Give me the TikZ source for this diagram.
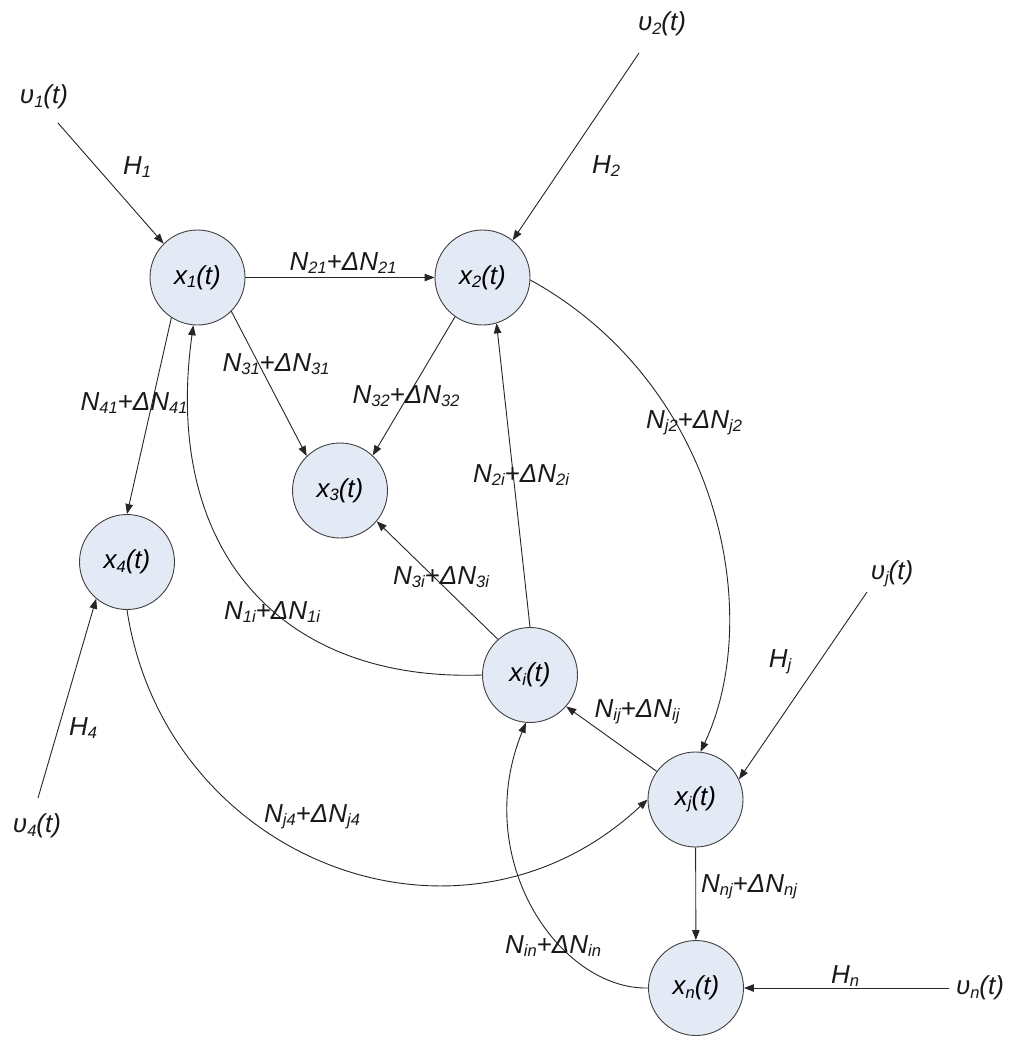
\documentclass[tikz,border=0pt]{standalone}
\usepackage{fontspec}
\setmainfont{Liberation Sans}
\usetikzlibrary{arrows.meta}
\definecolor{nodefill}{RGB}{228,234,245}
\newcommand{\lo}[1]{\raisebox{-3.5pt}{\fontsize{16.5}{16.5}\selectfont #1}}
\begin{document}
\begin{tikzpicture}[x=1pt,y=-1pt,
  state/.style={circle,draw=black!75,fill=nodefill,line width=0.9pt,minimum size=95pt,inner sep=0pt,font=\fontsize{26}{30}\selectfont\itshape},
  lab/.style={font=\fontsize{26}{30}\selectfont\itshape,inner sep=0pt,text=black!90},
  conn/.style={draw=black!85,line width=0.9pt,-{Triangle[length=10pt,width=7.5pt]}}]
\useasboundingbox[fill=white] (0,0) rectangle (1024,1049);
% states
\node[state] (x1) at (197.5,277.5) {x\lo{1}(t)};
\node[state] (x2) at (482.5,277.5) {x\lo{2}(t)};
\node[state] (x3) at (340,490.5) {x\lo{3}(t)};
\node[state] (x4) at (127,562) {x\lo{4}(t)};
\node[state] (xi) at (530,675) {x\lo{i}(t)};
\node[state] (xj) at (695.5,799.5) {x\lo{j}(t)};
\node[state] (xn) at (696,988) {x\lo{n}(t)};
% inputs
\coordinate (u1) at (58,123);
\coordinate (u2) at (639,53);
\coordinate (uj) at (867,592);
\coordinate (u4) at (38,798);
\coordinate (un) at (949,988);
\node[lab] (lu1) at (44,97) {υ\lo{1}(t)};
\node[lab] (lu2) at (662,24) {υ\lo{2}(t)};
\node[lab] (luj) at (892,574) {υ\lo{j}(t)};
\node[lab] (lu4) at (37,826) {υ\lo{4}(t)};
\node[lab] (lun) at (980,988) {υ\lo{n}(t)};
\draw[conn] (u1) -- (x1.135);
\draw[conn] (u2) -- (x2.51);
\draw[conn] (uj) -- (xj.25);
\draw[conn] (u4) -- (x4.230);
\draw[conn] (un) -- (xn.east);
\node[lab] (h1) at (137,167) {H\lo{1}};
\node[lab] (h2) at (606,166) {H\lo{2}};
\node[lab] (hj) at (780,662) {H\lo{j}};
\node[lab] (h4) at (83,728) {H\lo{4}};
\node[lab] (hn) at (845,976) {H\lo{n}};
% couplings
\draw[conn] (x1) -- (x2);
\draw[conn] (x1.-45) -- (x3.134);
\draw[conn] (x2.-125) -- (x3.47);
\draw[conn] (x1.-123) -- (x4.90);
\draw[conn] (xi.90) -- (x2.-73);
\draw[conn] (xi.132) -- (x3.-40);
\draw[conn] (xj.144) -- (xi.-41);
\draw[conn] (xj) -- (xn);
\draw[conn] (xi.west) .. controls (280,682) and (162,550) .. (x1.-95);
\draw[conn] (xn.west) .. controls (560,990) and (470,860) .. (xi.-95);
\draw[conn] (x2.-3) .. controls (720,385) and (765,615) .. (xj.84);
\draw[conn] (x4.south) .. controls (165,860) and (460,975) .. (xj.west);
% labels
\node[lab] (n21) at (343,263) {N\lo{21}+ΔN\lo{21}};
\node[lab] (n31) at (276,364) {N\lo{31}+ΔN\lo{31}};
\node[lab] (n32) at (406,396) {N\lo{32}+ΔN\lo{32}};
\node[lab] (n41) at (134,403) {N\lo{41}+ΔN\lo{41}};
\node[lab] (n2i) at (521,475) {N\lo{2i}+ΔN\lo{2i}};
\node[lab] (n3i) at (441,577) {N\lo{3i}+ΔN\lo{3i}};
\node[lab] (n1i) at (272,612) {N\lo{1i}+ΔN\lo{1i}};
\node[lab] (nj2) at (694,423) {N\lo{j2}+ΔN\lo{j2}};
\node[lab] (nij) at (637,712) {N\lo{ij}+ΔN\lo{ij}};
\node[lab] (nj4) at (312,817) {N\lo{j4}+ΔN\lo{j4}};
\node[lab] (nnj) at (749,887) {N\lo{nj}+ΔN\lo{nj}};
\node[lab] (nin) at (553,946) {N\lo{in}+ΔN\lo{in}};
\end{tikzpicture}
\end{document}
